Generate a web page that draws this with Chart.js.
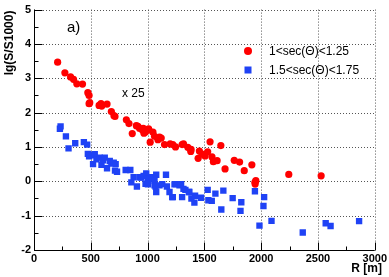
<!DOCTYPE html>
<html>
<head>
<meta charset="utf-8">
<script src="https://cdn.jsdelivr.net/npm/chart.js@4/dist/chart.umd.min.js"></script>
<style>
html,body{margin:0;padding:0;background:#fff;}
#wrap{width:389px;height:277px;}
</style>
</head>
<body>
<div id="wrap"><canvas id="c" width="389" height="277"></canvas></div>
<script>
// Series 1: 1<sec(Θ)<1.25 (red circles)
const redR = [208,272,322,348,377,427,474,485,491,485,573,590,596,643,681,704,713,813,836,865,
  901,915,930,953,962,968,980,1009,1011,1023,1047,1061,1091,1105,1120,1149,1199,1222,1246,
  1304,1316,1354,1380,1383,1445,1456,1480,1506,1529,1550,1567,1579,1612,1645,1682,1763,1810,
  1851,1918,1945,1947,1953,2243,2528];
const redLg = [3.47,3.16,3.04,2.97,2.84,2.83,2.58,2.50,2.29,2.26,2.21,2.26,2.19,2.25,2.03,1.91,1.89,1.79,1.68,1.39,
  1.62,1.60,1.54,1.50,1.54,1.40,1.43,1.53,1.50,1.14,1.43,1.31,1.21,1.29,1.26,1.07,1.09,1.07,1.00,
  1.07,1.09,0.99,0.87,0.93,0.67,0.88,0.79,0.74,0.86,1.15,0.71,0.57,0.60,1.04,0.36,0.61,0.56,
  0.31,0.48,-0.03,-0.08,0.02,0.20,0.16];
// Series 2: 1.5<sec(Θ)<1.75 (blue squares)
const blueR = [228,234,281,304,363,439,468,474,485,520,526,535,550,579,594,608,623,643,667,681,702,719,713,731,
  807,848,857,877,906,930,945,965,982,988,1003,1003,1011,1032,1061,1061,1076,1070,1076,1105,1129,1162,1170,1193,
  1217,1222,1237,1252,1281,1295,1304,1316,1333,1363,1368,1386,1412,1418,1471,1529,1535,1565,1597,1649,1667,
  1749,1818,1825,1945,1985,2020,2026,2091,2366,2568,2611,2862];
const blueLg = [1.53,1.60,1.31,0.96,1.11,1.14,1.07,0.80,0.73,0.50,0.76,0.79,0.64,0.69,0.48,0.61,0.69,0.38,0.59,0.52,0.54,0.50,0.31,0.28,
  0.33,0.33,-0.03,0.12,-0.15,0.12,0.11,0.16,-0.07,0.23,0.07,-0.09,0.07,0.12,0.02,-0.12,0.19,-0.15,-0.31,-0.12,-0.08,0.19,-0.15,-0.31,
  -0.46,-0.46,-0.09,-0.08,-0.12,-0.08,-0.46,-0.22,-0.25,-0.31,-0.31,-0.50,-0.62,-0.42,-0.48,-0.25,-0.55,-0.57,-0.36,-0.82,-0.27,
  -0.49,-0.86,-0.61,-0.29,-1.29,-0.72,-0.46,-1.15,-1.49,-1.22,-1.30,-1.16];

const seriesLabels = ['1<sec(\u0398)<1.25', '1.5<sec(\u0398)<1.75'];
const xTitle = 'R [m]';
const yTitle = 'lg(S/S1000)';
const panelLabel = 'a)';
const scaleNote = 'x 25';

const RED = '#ff0000';
const BLUE = '#1f42f5';

const toPts = (xs, ys) => xs.map((x, i) => ({x: x, y: ys[i]}));

const framePlugin = {
  id: 'frame',
  beforeDatasetsDraw(chart) {
    const ctx = chart.ctx, a = chart.chartArea;
    const xs = chart.scales.x, ys = chart.scales.y;
    ctx.save();
    // dotted grid
    ctx.strokeStyle = '#555';
    ctx.lineWidth = 1;
    ctx.setLineDash([1, 2]);
    xs.ticks.forEach(t => {
      const px = Math.round(xs.getPixelForValue(t.value)) + 0.5;
      ctx.beginPath(); ctx.moveTo(px, a.top); ctx.lineTo(px, a.bottom); ctx.stroke();
    });
    ys.ticks.forEach(t => {
      const py = Math.round(ys.getPixelForValue(t.value)) + 0.5;
      ctx.beginPath(); ctx.moveTo(a.left, py); ctx.lineTo(a.right, py); ctx.stroke();
    });
    ctx.setLineDash([]);
    // axes lines
    ctx.strokeStyle = '#000';
    const L = Math.round(a.left) + 0.5, B = Math.round(a.bottom) + 0.5;
    ctx.beginPath(); ctx.moveTo(L, a.top); ctx.lineTo(L, B); ctx.lineTo(a.right, B); ctx.stroke();
    // inner ticks: major and minor
    const xStep = 250, yStep = 0.5;
    for (let v = xs.min; v <= xs.max + 1e-6; v += xStep) {
      const px = Math.round(xs.getPixelForValue(v)) + 0.5;
      const len = (Math.round(v / xStep) % 2 === 0) ? 8 : 4;
      ctx.beginPath(); ctx.moveTo(px, B); ctx.lineTo(px, B - len); ctx.stroke();
    }
    for (let v = ys.min; v <= ys.max + 1e-6; v += yStep) {
      const py = Math.round(ys.getPixelForValue(v)) + 0.5;
      const len = (Math.round(v / yStep) % 2 === 0) ? 8 : 4;
      ctx.beginPath(); ctx.moveTo(L, py); ctx.lineTo(L + len, py); ctx.stroke();
    }
    ctx.restore();
  },
  afterDraw(chart) {
    const ctx = chart.ctx, a = chart.chartArea;
    ctx.save();
    ctx.fillStyle = '#000';
    // y title (rotated, aligned to top)
    ctx.save();
    ctx.translate(10, a.top + 1);
    ctx.rotate(-Math.PI / 2);
    ctx.font = 'bold 12px "Liberation Sans", Arial, sans-serif';
    ctx.textAlign = 'right';
    ctx.textBaseline = 'middle';
    ctx.fillText(yTitle, 0, 0);
    ctx.restore();
    // x title (right aligned)
    ctx.font = 'bold 12px "Liberation Sans", Arial, sans-serif';
    ctx.textAlign = 'right';
    ctx.textBaseline = 'middle';
    ctx.fillText(xTitle, 382, 269);
    // panel label
    ctx.font = '15px "Liberation Sans", Arial, sans-serif';
    ctx.textAlign = 'left';
    ctx.fillText(panelLabel, 67, 28);
    ctx.font = '12px "Liberation Sans", Arial, sans-serif';
    ctx.fillText(scaleNote, 122, 94);
    // legend
    const ds = chart.data.datasets;
    const lx = 248, rows = [51, 70];
    ds.forEach((d, i) => {
      ctx.fillStyle = d.backgroundColor;
      if (d.pointStyle === 'rect') {
        ctx.fillRect(lx - 3.5, rows[i] - 3.5, 7, 7);
      } else {
        ctx.beginPath(); ctx.arc(lx, rows[i], 4, 0, Math.PI * 2); ctx.fill();
      }
      ctx.fillStyle = '#000';
      ctx.font = '12px "Liberation Sans", Arial, sans-serif';
      ctx.textAlign = 'left';
      ctx.fillText(d.label, 269, rows[i] + 0.5);
    });
    ctx.restore();
  }
};

new Chart(document.getElementById('c'), {
  type: 'scatter',
  data: {
    datasets: [
      {label: seriesLabels[0], data: toPts(redR, redLg), backgroundColor: RED, borderColor: RED,
       borderWidth: 0, pointStyle: 'circle', pointRadius: 3.6, pointHoverRadius: 3.6},
      {label: seriesLabels[1], data: toPts(blueR, blueLg), backgroundColor: BLUE, borderColor: BLUE,
       borderWidth: 0, pointStyle: 'rect', pointRadius: 4.5, pointHoverRadius: 4.5}
    ]
  },
  options: {
    responsive: false,
    animation: false,
    layout: {padding: {left: 0, right: 13, top: 6, bottom: 0}},
    plugins: {legend: {display: false}, tooltip: {enabled: false}},
    scales: {
      x: {
        type: 'linear', min: 0, max: 3000,
        grid: {display: false, drawTicks: false}, border: {display: false},
        ticks: {stepSize: 500, maxRotation: 0, padding: 2, color: '#000',
                callback: v => String(v),
                font: {family: '"Liberation Sans", Arial, sans-serif', size: 11, weight: 'bold'}},
        afterFit(s) { s.height = 27; }
      },
      y: {
        type: 'linear', min: -2, max: 5,
        grid: {display: false, drawTicks: false}, border: {display: false},
        ticks: {stepSize: 1, padding: 3, color: '#000',
                callback: v => String(v),
                font: {family: '"Liberation Sans", Arial, sans-serif', size: 11, weight: 'bold'}},
        afterFit(s) { s.width = 34; }
      }
    }
  },
  plugins: [framePlugin]
});
</script>
</body>
</html>
